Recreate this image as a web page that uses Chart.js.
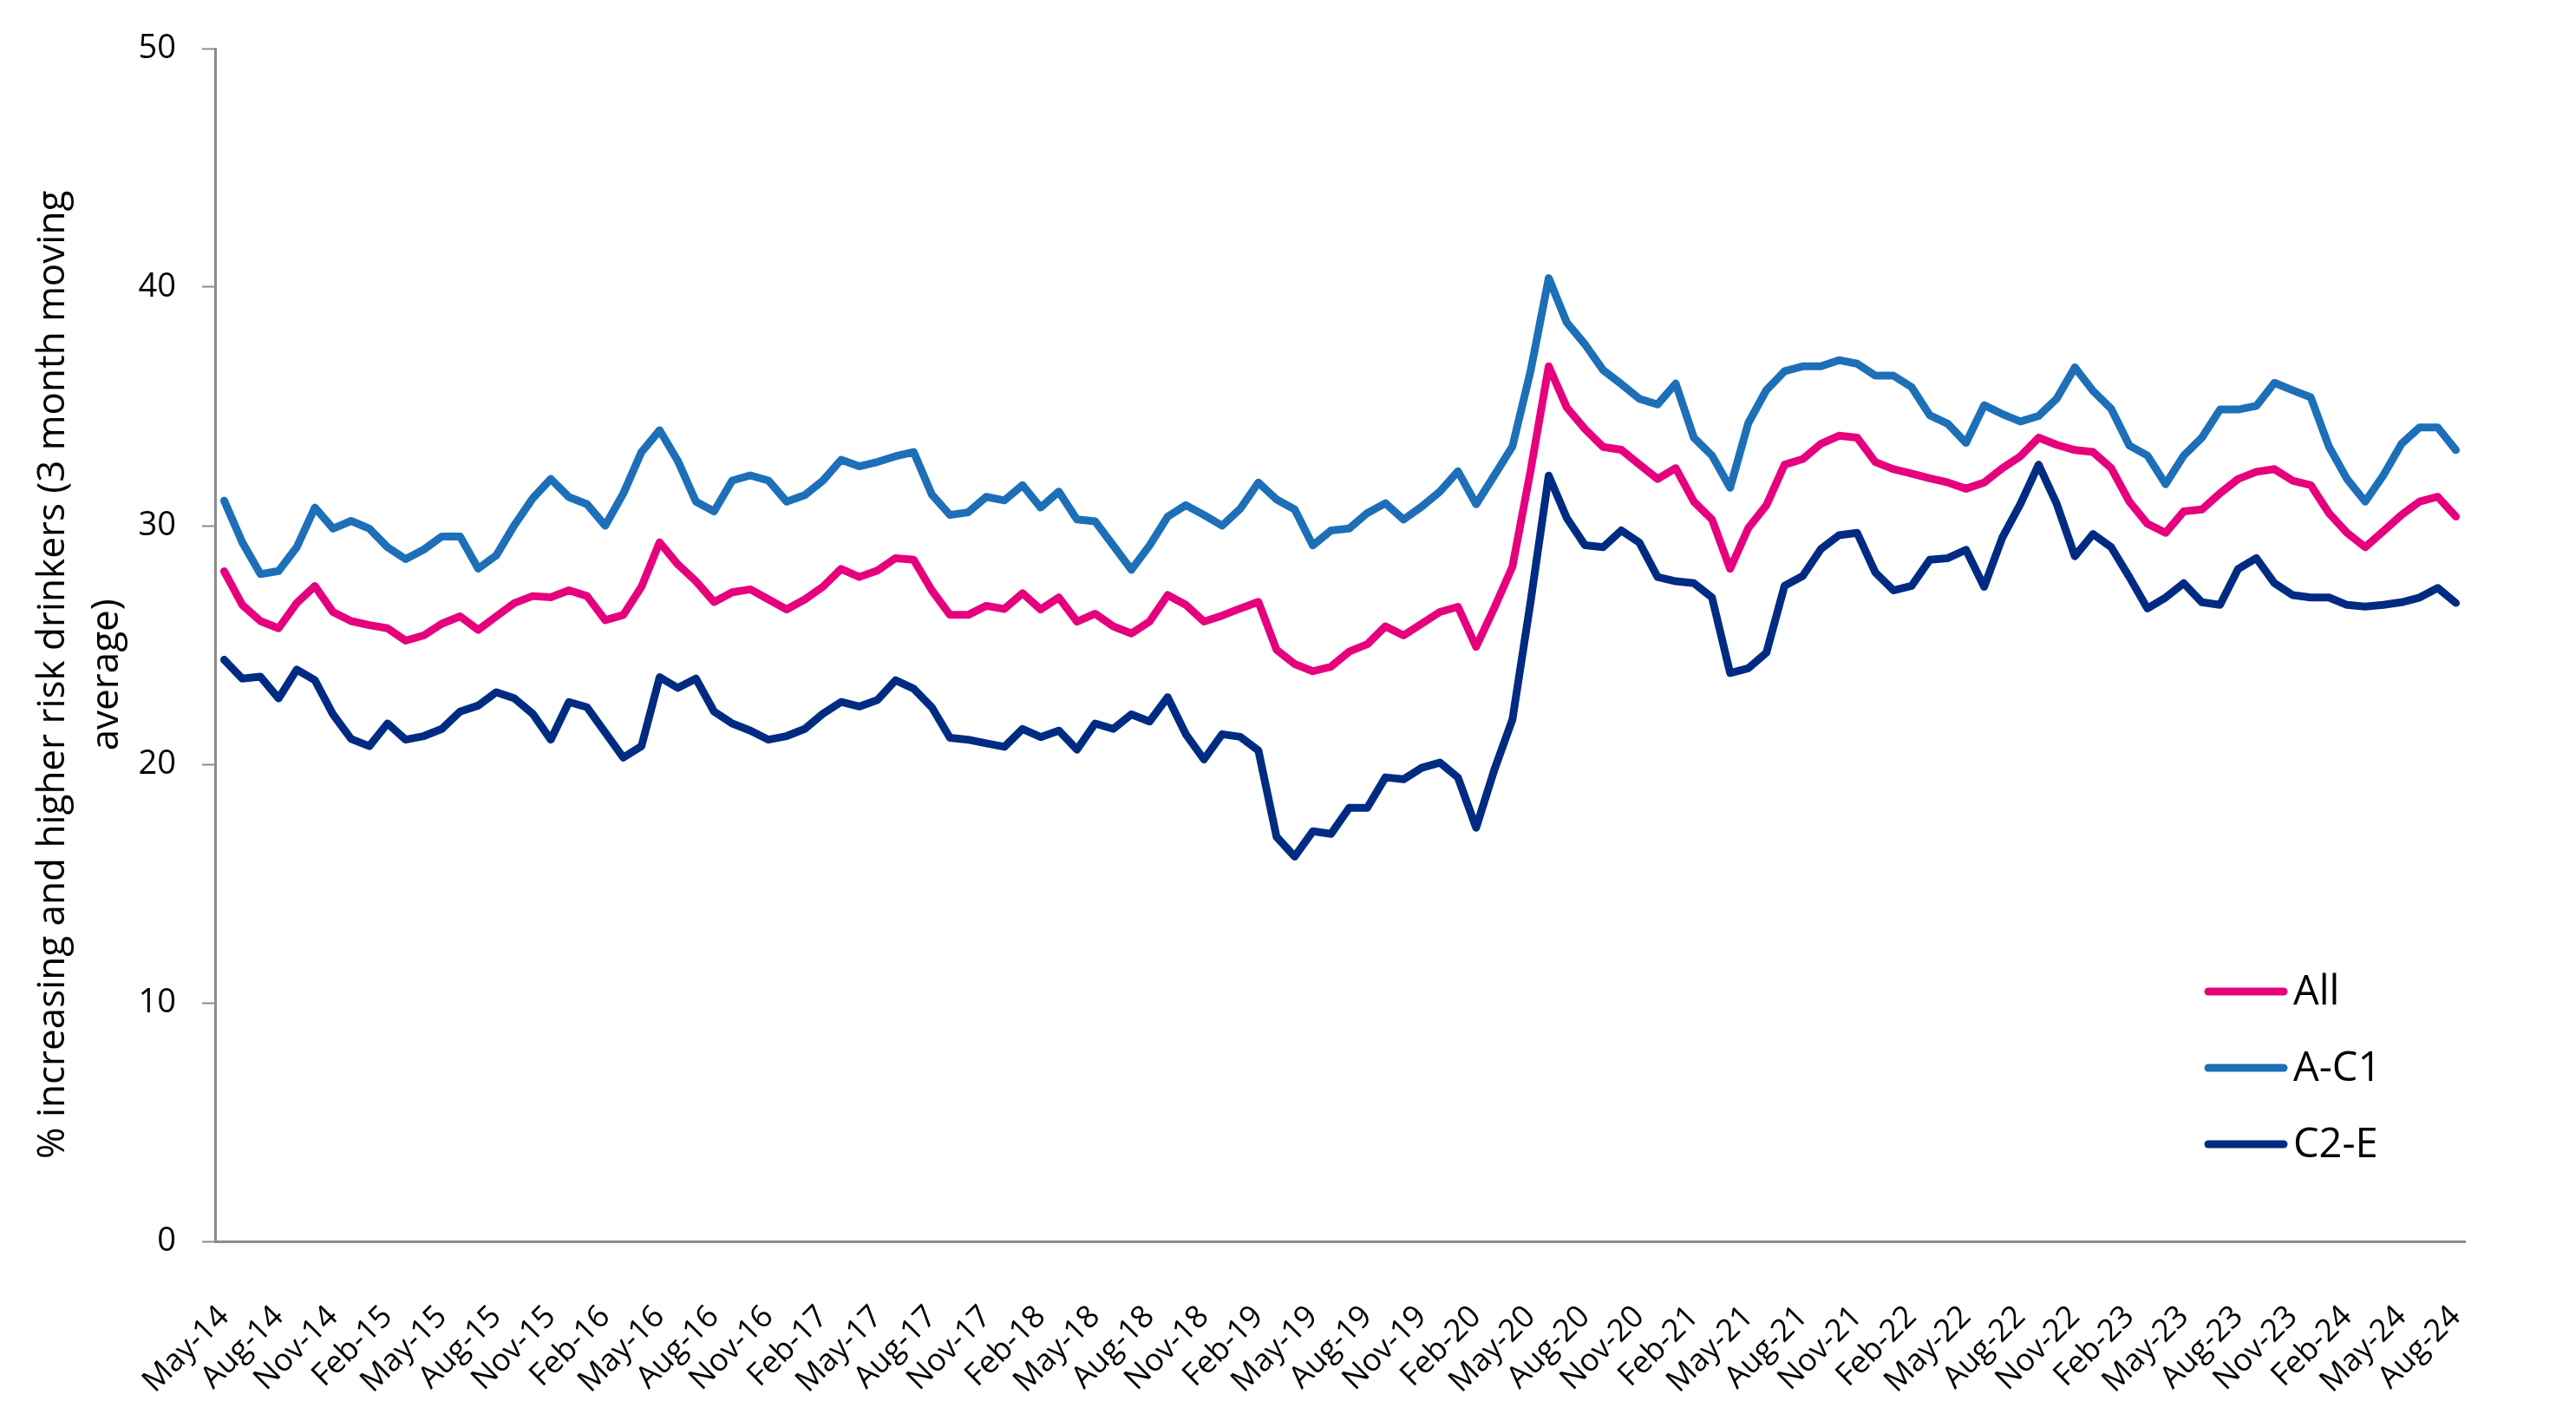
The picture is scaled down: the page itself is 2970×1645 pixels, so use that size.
<!DOCTYPE html>
<html lang="en">
<head>
    <meta charset="UTF-8">
    <title>Increasing and higher risk drinkers</title>
    <style>
        body { margin: 0; background: #fff; }
        #myChart { display: block; }
    </style>
</head>
<body>
    <canvas id="myChart" width="2970" height="1645"></canvas>

    <script src="https://cdn.jsdelivr.net/npm/chart.js"></script>
    <script>
    // month names used for the category labels (May-14 ... Aug-24)
    const monthNames = ['Jan', 'Feb', 'Mar', 'Apr', 'May', 'Jun', 'Jul', 'Aug', 'Sep', 'Oct', 'Nov', 'Dec']
    const firstYear = 2014
    const firstMonth = 4   // May

    const allData = [
        28.09, 26.68, 26.0, 25.7, 26.76, 27.47, 26.38, 26.0, 25.83, 25.7,
        25.18, 25.4, 25.89, 26.2, 25.63, 26.2, 26.76, 27.05, 27.0, 27.29,
        27.05, 26.04, 26.26, 27.44, 29.3, 28.38, 27.67, 26.8, 27.21, 27.33,
        26.91, 26.49, 26.91, 27.44, 28.19, 27.85, 28.12, 28.64, 28.57, 27.29,
        26.26, 26.26, 26.64, 26.51, 27.17, 26.49, 26.99, 25.98, 26.31, 25.78,
        25.48, 25.98, 27.09, 26.68, 25.98, 26.23, 26.53, 26.81, 24.8, 24.2,
        23.9, 24.09, 24.72, 25.03, 25.78, 25.4, 25.89, 26.38, 26.6, 24.92,
        26.55, 28.28, 32.3, 36.68, 34.95, 34.05, 33.3, 33.18, 32.56, 31.96,
        32.41, 31.01, 30.26, 28.19, 29.9, 30.86, 32.56, 32.79, 33.43, 33.77,
        33.69, 32.67, 32.37, 32.19, 31.99, 31.81, 31.55, 31.81, 32.41, 32.91,
        33.69, 33.39, 33.17, 33.09, 32.41, 31.01, 30.08, 29.7, 30.6, 30.68,
        31.36, 31.96, 32.26, 32.37, 31.89, 31.7, 30.53, 29.7, 29.1, 29.77,
        30.45, 31.01, 31.21, 30.38
    ]

    const acData = [
        31.05, 29.3, 27.97, 28.1, 29.1, 30.76, 29.88, 30.2, 29.88, 29.1,
        28.6, 29.0, 29.55, 29.55, 28.2, 28.76, 30.03, 31.14, 31.96, 31.2,
        30.9, 30.0, 31.35, 33.09, 34.0, 32.72, 31.01, 30.6, 31.89, 32.11,
        31.89, 31.01, 31.28, 31.89, 32.76, 32.49, 32.67, 32.91, 33.09, 31.31,
        30.45, 30.56, 31.21, 31.06, 31.7, 30.76, 31.43, 30.26, 30.18, 29.17,
        28.15, 29.17, 30.38, 30.86, 30.45, 30.0, 30.71, 31.81, 31.1, 30.68,
        29.17, 29.8, 29.88, 30.53, 30.94, 30.26, 30.8, 31.43, 32.28, 30.9,
        32.1, 33.32, 36.48, 40.38, 38.51, 37.6, 36.52, 35.94, 35.32, 35.08,
        35.96, 33.69, 32.94, 31.59, 34.3, 35.69, 36.48, 36.68, 36.68, 36.94,
        36.79, 36.29, 36.29, 35.81, 34.63, 34.27, 33.47, 35.05, 34.68, 34.37,
        34.6, 35.33, 36.64, 35.65, 34.9, 33.36, 32.94, 31.74, 32.94, 33.69,
        34.87, 34.87, 35.02, 35.99, 35.68, 35.38, 33.32, 31.96, 31.01, 32.11,
        33.43, 34.12, 34.12, 33.17
    ]

    const ceData = [
        24.38, 23.59, 23.67, 22.76, 23.97, 23.52, 22.09, 21.06, 20.76, 21.71,
        21.03, 21.18, 21.48, 22.21, 22.46, 23.02, 22.76, 22.12, 21.03, 22.61,
        22.39, 21.33, 20.28, 20.76, 23.65, 23.2, 23.59, 22.21, 21.71, 21.41,
        21.03, 21.18, 21.48, 22.12, 22.61, 22.42, 22.69, 23.52, 23.17, 22.39,
        21.11, 21.03, 20.88, 20.73, 21.48, 21.14, 21.41, 20.61, 21.71, 21.48,
        22.09, 21.79, 22.81, 21.26, 20.2, 21.26, 21.15, 20.58, 16.96, 16.13,
        17.19, 17.08, 18.17, 18.17, 19.45, 19.37, 19.85, 20.07, 19.44, 17.34,
        19.76, 21.87, 26.8, 32.1, 30.32, 29.18, 29.1, 29.8, 29.29, 27.85,
        27.67, 27.59, 26.99, 23.82, 24.02, 24.68, 27.48, 27.89, 29.02, 29.6,
        29.7, 28.04, 27.29, 27.48, 28.57, 28.64, 28.99, 27.44, 29.5, 30.91,
        32.56, 30.91, 28.72, 29.65, 29.1, 27.85, 26.53, 26.99, 27.59, 26.79,
        26.68, 28.19, 28.64, 27.59, 27.09, 26.99, 26.99, 26.68, 26.61, 26.68,
        26.79, 26.99, 27.39, 26.76
    ]

    const yTicks = [0, 10, 20, 30, 40, 50]
    // trailing spaces nudge the rotated title a little lower, as in the original
    const yTitle = ['% increasing and higher risk drinkers (3 month moving      ', 'average)      ']

    const labels = allData.map((_, i) => {
        const m = firstMonth + i
        const yr = firstYear + Math.floor(m / 12)
        return monthNames[m % 12] + '-' + String(yr).slice(2)
    })

    const FONT = '"Open Sans", "DejaVu Sans", sans-serif'
    const AXIS_GREY = '#8c8c8c'

    // legend drawn inside the plot, lower right, like the original
    const insideLegend = {
        id: 'insideLegend',
        afterDraw(chart) {
            const c = chart.ctx
            chart.data.datasets.forEach((ds, i) => {
                const y = 1143 + i * 88
                c.save()
                c.strokeStyle = ds.borderColor
                c.lineWidth = 9
                c.lineCap = 'round'
                c.beginPath()
                c.moveTo(2546, y)
                c.lineTo(2633, y)
                c.stroke()
                c.fillStyle = '#000'
                c.font = '47px ' + FONT
                c.textBaseline = 'middle'
                c.fillText(ds.label, 2644, y + 2)
                c.restore()
            })
        }
    }

    const lineStyle = {
        borderWidth: 9,
        pointRadius: 0,
        tension: 0,
        borderCapStyle: 'round',
        borderJoinStyle: 'round',
        fill: false
    }

    const ctx = document.getElementById('myChart')

    const myChart = new Chart(ctx, {
        type: 'line',
        data: {
            labels: labels,
            datasets: [
                { label: 'All', data: allData, borderColor: '#e6007e', ...lineStyle },
                { label: 'A-C1', data: acData, borderColor: '#1d6fb8', ...lineStyle },
                { label: 'C2-E', data: ceData, borderColor: '#002b82', ...lineStyle }
            ]
        },
        options: {
            responsive: false,
            devicePixelRatio: 1,
            animation: false,
            layout: {
                padding: { left: 0, right: 128, top: 56, bottom: 0 }
            },
            plugins: {
                legend: { display: false },
                tooltip: { enabled: false }
            },
            scales: {
                x: {
                    offset: true,
                    grid: { display: false },
                    border: { display: true, color: AXIS_GREY, width: 3 },
                    ticks: {
                        autoSkip: false,
                        maxRotation: 45,
                        minRotation: 45,
                        padding: 58,
                        color: '#000',
                        font: { family: FONT, size: 36 },
                        callback: function (val, index) {
                            return index % 3 === 0 ? this.getLabelForValue(val) : ''
                        }
                    },
                    afterFit(scale) { scale.height = 214 }
                },
                y: {
                    min: 0,
                    max: 50,
                    afterBuildTicks(scale) {
                        scale.ticks = yTicks.map(v => ({ value: v }))
                    },
                    grid: {
                        display: true,
                        drawOnChartArea: false,
                        drawTicks: true,
                        tickLength: 15,
                        tickWidth: 2,
                        tickColor: AXIS_GREY
                    },
                    border: { display: true, color: AXIS_GREY, width: 3 },
                    ticks: {
                        padding: 30,
                        color: '#000',
                        font: { family: FONT, size: 38 }
                    },
                    title: {
                        display: true,
                        text: yTitle,
                        color: '#000',
                        font: { family: FONT, size: 44, lineHeight: 1.4 },
                        padding: { top: 31, bottom: 0 }
                    },
                    afterFit(scale) { scale.width = 248 }
                }
            }
        },
        plugins: [insideLegend]
    })
    </script>
</body>
</html>
